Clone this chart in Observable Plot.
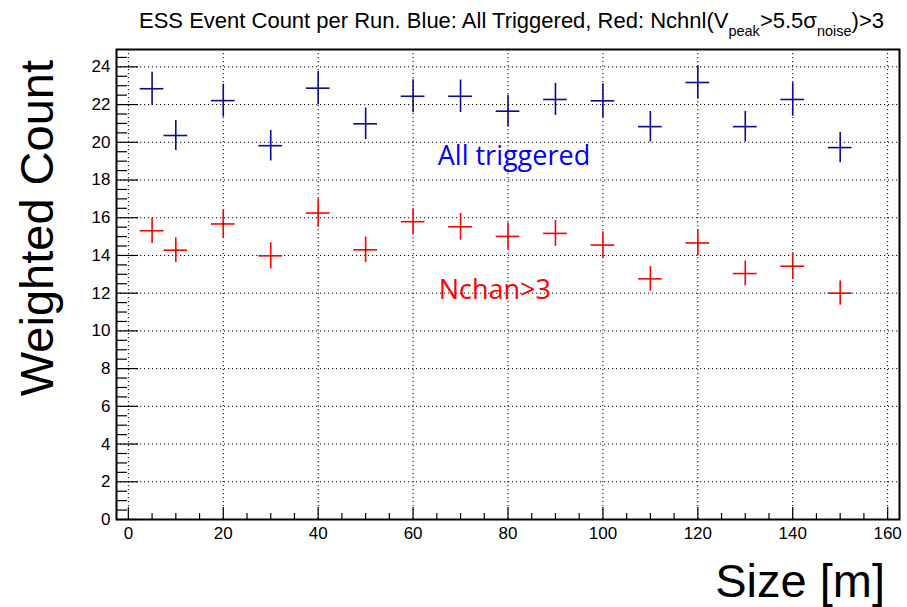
<!DOCTYPE html>
<html>
<head>
<meta charset="utf-8">
<script src="https://cdn.jsdelivr.net/npm/d3@7"></script>
<script src="https://cdn.jsdelivr.net/npm/@observablehq/plot@0.6"></script>
<style>
  html, body { margin: 0; padding: 0; background: #fff; }
  #chart svg { display: block; }
</style>
</head>
<body>
<div id="chart"></div>
<script>
// ---- data ----
const sizes      = [5, 10, 20, 30, 40, 50, 60, 70, 80, 90, 100, 110, 120, 130, 140, 150];
const allTrig    = [22.84, 20.36, 22.21, 19.82, 22.87, 20.98, 22.44, 22.44, 21.65, 22.27, 22.20, 20.83, 23.17, 20.83, 22.27, 19.72];
const allTrigErr = [0.87, 0.80, 0.87, 0.81, 0.88, 0.84, 0.87, 0.86, 0.84, 0.85, 0.90, 0.81, 0.87, 0.81, 0.89, 0.80];
const nchan      = [15.31, 14.28, 15.67, 13.98, 16.25, 14.30, 15.79, 15.52, 15.01, 15.17, 14.55, 12.76, 14.66, 13.04, 13.43, 12.00];
const nchanErr   = [0.68, 0.66, 0.74, 0.69, 0.74, 0.68, 0.69, 0.71, 0.71, 0.69, 0.71, 0.65, 0.69, 0.66, 0.71, 0.64];
const sizeErr    = [2.5, 2.5, 2.5, 2.5, 2.5, 2.5, 2.5, 2.5, 2.5, 2.5, 2.5, 2.5, 2.5, 2.5, 2.5, 2.5];

const xMajorTicks = [0, 20, 40, 60, 80, 100, 120, 140, 160];
const xMinorTicks = [5, 10, 15, 25, 30, 35, 45, 50, 55, 65, 70, 75, 85, 90, 95, 105, 110, 115, 125, 130, 135, 145, 150, 155];
const yMajorTicks = [0, 2, 4, 6, 8, 10, 12, 14, 16, 18, 20, 22, 24];
const yMinorTicks = [0.5, 1, 1.5, 2.5, 3, 3.5, 4.5, 5, 5.5, 6.5, 7, 7.5, 8.5, 9, 9.5, 10.5, 11, 11.5,
                     12.5, 13, 13.5, 14.5, 15, 15.5, 16.5, 17, 17.5, 18.5, 19, 19.5, 20.5, 21, 21.5,
                     22.5, 23, 23.5, 24.5];
const xDomain = [-2.5, 162.5];
const yDomain = [0, 24.92];

const titleParts = ["ESS Event Count per Run. Blue: All Triggered, Red: Nchnl(V", "peak", ">5.5σ", "noise", ")>3"];
const xTitle = "Size [m]";
const yTitle = "Weighted Count";
const annotations = [
  {x: 65.2, y: 18.8, text: "All triggered", color: "#0000ff"},
  {x: 65.4, y: 11.68, text: "Nchan>3", color: "#ff0000"}
];

const blueColor = "#0a0a96";
const redColor = "#ff0000";

const blue = sizes.map((x, i) => ({x, y: allTrig[i], ey: allTrigErr[i], ex: sizeErr[i]}));
const red  = sizes.map((x, i) => ({x, y: nchan[i], ey: nchanErr[i], ex: sizeErr[i]}));

function crossMarks(data, color) {
  return [
    Plot.ruleY(data, {x1: d => d.x - d.ex, x2: d => d.x + d.ex, y: "y", stroke: color, strokeWidth: 1.6}),
    Plot.ruleX(data, {x: "x", y1: d => d.y - d.ey, y2: d => d.y + d.ey, stroke: color, strokeWidth: 1.6}),
    Plot.dot(data, {x: "x", y: "y", r: 0.7, fill: "black", stroke: null})
  ];
}

const font = "'Liberation Sans', Arial, Helvetica, sans-serif";

const plot = Plot.plot({
  width: 907,
  height: 607,
  marginLeft: 116,
  marginRight: 8,
  marginTop: 49,
  marginBottom: 88,
  style: {fontFamily: font, background: "white", color: "black"},
  x: {domain: xDomain, axis: null},
  y: {domain: yDomain, axis: null},
  marks: [
    Plot.gridX({ticks: xMajorTicks, stroke: "black", strokeOpacity: 1, strokeWidth: 1, strokeDasharray: "1.2,2.8"}),
    Plot.gridY({ticks: yMajorTicks, stroke: "black", strokeOpacity: 1, strokeWidth: 1, strokeDasharray: "1.2,2.8"}),
    // inward ticks
    Plot.axisX({anchor: "bottom", ticks: xMajorTicks, tickSize: -12, text: null, label: null, strokeWidth: 1.2}),
    Plot.axisX({anchor: "bottom", ticks: xMinorTicks, tickSize: -6, text: null, label: null, strokeWidth: 1.2}),
    Plot.axisY({anchor: "left", ticks: yMajorTicks, tickSize: -22, text: null, label: null, strokeWidth: 1.2}),
    Plot.axisY({anchor: "left", ticks: yMinorTicks, tickSize: -11, text: null, label: null, strokeWidth: 1.2}),
    // tick labels
    Plot.axisX({anchor: "bottom", ticks: xMajorTicks, tickSize: 0, tickPadding: 7, fontSize: 17, label: null, tickFormat: d => String(d)}),
    Plot.axisY({anchor: "left", ticks: yMajorTicks, tickSize: 0, tickPadding: 6, fontSize: 17, label: null, tickFormat: d => String(d)}),
    ...crossMarks(blue, blueColor),
    ...crossMarks(red, redColor),
    Plot.text(annotations, {x: "x", y: "y", text: "text", fill: "color", textAnchor: "start", lineAnchor: "bottom",
      fontSize: 27, fontFamily: "'Open Sans', 'Noto Sans', sans-serif"}),
    Plot.frame({stroke: "black", strokeWidth: 2})
  ]
});

document.getElementById("chart").appendChild(plot);

// titles (real SVG text)
const svg = d3.select(plot);
const t = svg.append("text")
  .attr("x", 139).attr("y", 28.3)
  .attr("text-anchor", "start")
  .attr("font-family", font).attr("font-size", 22).attr("fill", "black");
t.append("tspan").text(titleParts[0]);
t.append("tspan").attr("font-size", 14.5).attr("dy", 8).text(titleParts[1]);
t.append("tspan").attr("font-size", 22).attr("dy", -8).text(titleParts[2]);
t.append("tspan").attr("font-size", 14.5).attr("dy", 8).text(titleParts[3]);
t.append("tspan").attr("font-size", 22).attr("dy", -8).text(titleParts[4]);

svg.append("text")
  .attr("x", 885).attr("y", 597)
  .attr("text-anchor", "end")
  .attr("font-family", font).attr("font-size", 47).attr("fill", "black")
  .text(xTitle);

svg.append("text")
  .attr("transform", "translate(53,60) rotate(-90)")
  .attr("text-anchor", "end")
  .attr("font-family", font).attr("font-size", 47).attr("fill", "black")
  .text(yTitle);
</script>
</body>
</html>
